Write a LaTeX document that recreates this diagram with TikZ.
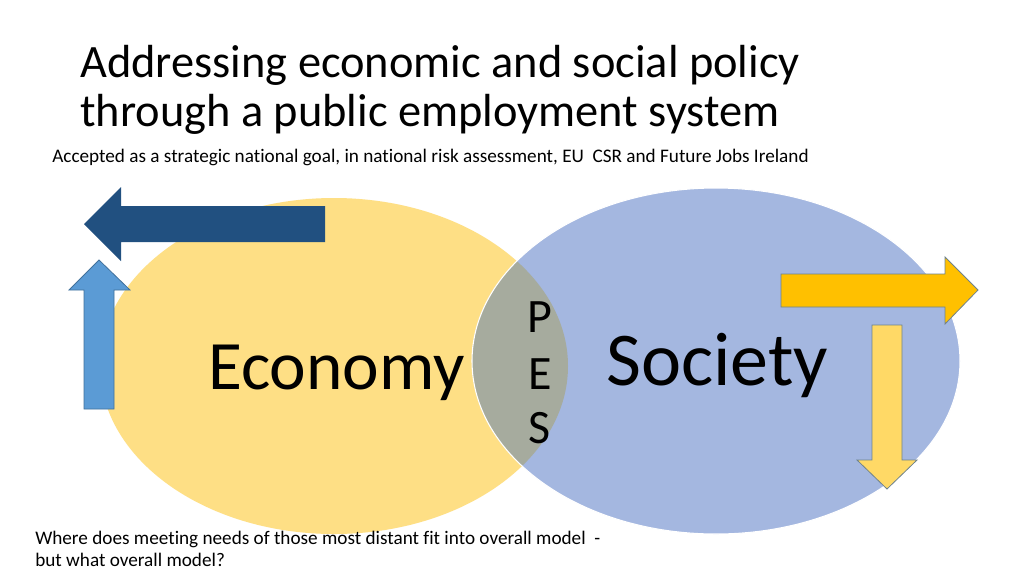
\documentclass[tikz,border=0pt]{standalone}
\usepackage{fontspec}
\setmainfont{Carlito}[Ligatures=NoCommon]
\definecolor{econY}{RGB}{254,223,133}
\definecolor{socB}{RGB}{164,183,224}
\definecolor{pesG}{RGB}{166,171,158}
\definecolor{darkB}{RGB}{33,80,128}
\definecolor{lightB}{RGB}{91,155,213}
\definecolor{lightBedge}{RGB}{65,113,156}
\definecolor{goldA}{RGB}{255,192,0}
\definecolor{paleY}{RGB}{255,217,102}
\definecolor{arrEdge}{RGB}{110,130,140}
\begin{document}
\begin{tikzpicture}[x=0.75pt,y=-0.75pt,
  txt/.style={inner sep=0pt,anchor=base west,text=black},
  blockarrow/.style={line width=0.6pt,line join=miter}]
\useasboundingbox (0,0) rectangle (1024,576);
\fill[white] (0,0) rectangle (1024,576);
% ellipses
\coordinate (ec) at (334,366);
\coordinate (sc) at (716,361);
\fill[econY] (ec) ellipse [x radius=234, y radius=168];
\fill[socB] (sc) ellipse [x radius=244, y radius=173];
\begin{scope}
  \clip (ec) ellipse [x radius=234, y radius=168];
  \fill[pesG] (sc) ellipse [x radius=244, y radius=173];
\end{scope}
\draw[white,line width=0.8pt] (sc) ellipse [x radius=244, y radius=173];
% arrows
\fill[darkB] (325,206) -- (121,206) -- (121,187) -- (84,224) -- (121,261) -- (121,242) -- (325,242) -- cycle;
\filldraw[blockarrow,fill=lightB,draw=lightBedge] (84,409) -- (84,290) -- (69,290) -- (99,260) -- (130,290) -- (114,290) -- (114,409) -- cycle;
\filldraw[blockarrow,fill=goldA,draw=arrEdge] (781,274) -- (945,274) -- (945,257) -- (978,290) -- (945,324) -- (945,307) -- (781,307) -- cycle;
\filldraw[blockarrow,fill=paleY,draw=arrEdge] (872,325) -- (902,325) -- (902,460) -- (917,460) -- (887,489) -- (857,460) -- (872,460) -- cycle;
% texts
\node[txt,font=\fontsize{34.8}{40}\selectfont] (t1) at (80,77) {Addressing economic and social policy};
\node[txt,font=\fontsize{34.8}{40}\selectfont] (t2) at (80,126) {through a public employment system};
\node[txt,font=\fontsize{14.4}{17}\selectfont] (sub) at (52,162) {Accepted as a strategic national goal, in national risk assessment, EU\ \ CSR and Future Jobs Ireland};
\node[txt,font=\fontsize{52}{60}\selectfont] (econ) at (208,389) {Economy};
\node[txt,font=\fontsize{57}{66}\selectfont] (soc) at (606,385) {Society};
\node[txt,font=\fontsize{36}{40}\selectfont,anchor=base] (p) at (540,332) {P};
\node[txt,font=\fontsize{36}{40}\selectfont,anchor=base] (e) at (540,389) {E};
\node[txt,font=\fontsize{36}{40}\selectfont,anchor=base] (s) at (540,443) {S};
\node[txt,font=\fontsize{14.4}{17}\selectfont] (q1) at (35,544) {Where does meeting needs of those most distant fit into overall model\ \ -};
\node[txt,font=\fontsize{14.4}{17}\selectfont] (q2) at (35,566) {but what overall model?};
\end{tikzpicture}
\end{document}
